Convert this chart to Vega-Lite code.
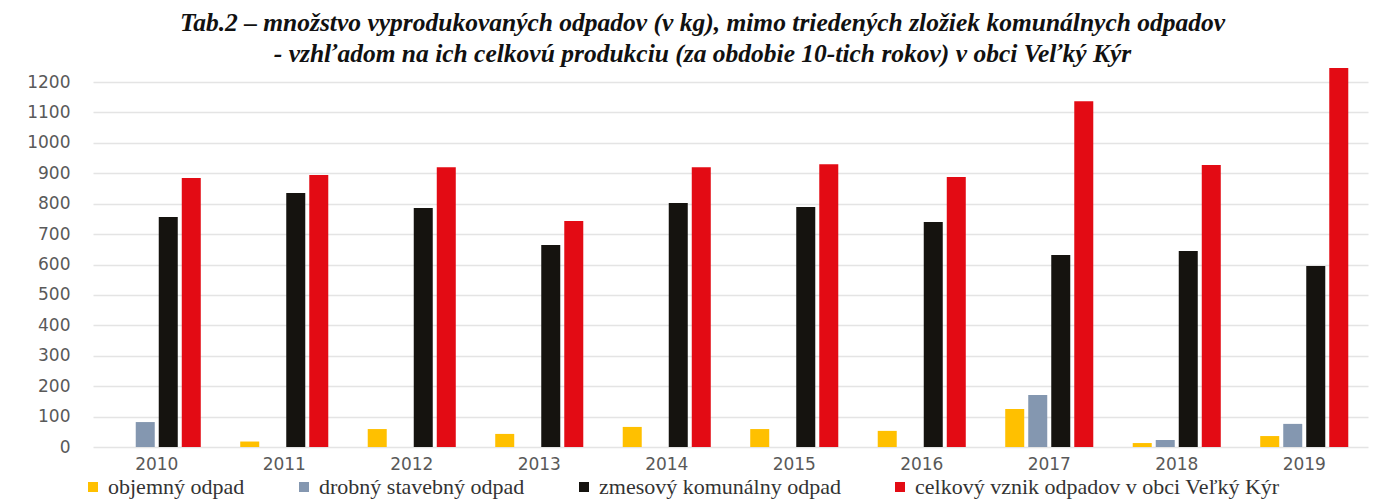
{
  "$schema": "https://vega.github.io/schema/vega-lite/v6.json",
  "width": 1275,
  "height": 365,
  "autosize": {"type": "none"},
  "padding": {"left": 93, "top": 82, "right": 26, "bottom": 56},
  "background": "white",
  "title": {
    "text": ["Tab.2 – množstvo vyprodukovaných odpadov (v kg), mimo triedených zložiek komunálnych odpadov", "- vzhľadom na ich celkovú produkciu (za obdobie 10-tich rokov) v obci Veľký Kýr"],
    "font": "Liberation Serif",
    "fontStyle": "italic",
    "fontWeight": "bold",
    "fontSize": 25.5,
    "lineHeight": 31,
    "color": "#111111",
    "anchor": "middle",
    "dx": -28,
    "offset": 1
  },
  "data": {
    "values": [
      {"year": "2010", "series": "objemný odpad", "value": 0},
      {"year": "2010", "series": "drobný stavebný odpad", "value": 82},
      {"year": "2010", "series": "zmesový komunálny odpad", "value": 756},
      {"year": "2010", "series": "celkový vznik odpadov v obci Veľký Kýr", "value": 884},
      {"year": "2011", "series": "objemný odpad", "value": 18},
      {"year": "2011", "series": "drobný stavebný odpad", "value": 0},
      {"year": "2011", "series": "zmesový komunálny odpad", "value": 835},
      {"year": "2011", "series": "celkový vznik odpadov v obci Veľký Kýr", "value": 894},
      {"year": "2012", "series": "objemný odpad", "value": 59},
      {"year": "2012", "series": "drobný stavebný odpad", "value": 0},
      {"year": "2012", "series": "zmesový komunálny odpad", "value": 786},
      {"year": "2012", "series": "celkový vznik odpadov v obci Veľký Kýr", "value": 920},
      {"year": "2013", "series": "objemný odpad", "value": 43},
      {"year": "2013", "series": "drobný stavebný odpad", "value": 0},
      {"year": "2013", "series": "zmesový komunálny odpad", "value": 664},
      {"year": "2013", "series": "celkový vznik odpadov v obci Veľký Kýr", "value": 743},
      {"year": "2014", "series": "objemný odpad", "value": 66},
      {"year": "2014", "series": "drobný stavebný odpad", "value": 0},
      {"year": "2014", "series": "zmesový komunálny odpad", "value": 802},
      {"year": "2014", "series": "celkový vznik odpadov v obci Veľký Kýr", "value": 920},
      {"year": "2015", "series": "objemný odpad", "value": 59},
      {"year": "2015", "series": "drobný stavebný odpad", "value": 0},
      {"year": "2015", "series": "zmesový komunálny odpad", "value": 789},
      {"year": "2015", "series": "celkový vznik odpadov v obci Veľký Kýr", "value": 930},
      {"year": "2016", "series": "objemný odpad", "value": 53},
      {"year": "2016", "series": "drobný stavebný odpad", "value": 0},
      {"year": "2016", "series": "zmesový komunálny odpad", "value": 740},
      {"year": "2016", "series": "celkový vznik odpadov v obci Veľký Kýr", "value": 888},
      {"year": "2017", "series": "objemný odpad", "value": 125},
      {"year": "2017", "series": "drobný stavebný odpad", "value": 171},
      {"year": "2017", "series": "zmesový komunálny odpad", "value": 631},
      {"year": "2017", "series": "celkový vznik odpadov v obci Veľký Kýr", "value": 1137},
      {"year": "2018", "series": "objemný odpad", "value": 13},
      {"year": "2018", "series": "drobný stavebný odpad", "value": 23},
      {"year": "2018", "series": "zmesový komunálny odpad", "value": 644},
      {"year": "2018", "series": "celkový vznik odpadov v obci Veľký Kýr", "value": 927},
      {"year": "2019", "series": "objemný odpad", "value": 36},
      {"year": "2019", "series": "drobný stavebný odpad", "value": 76},
      {"year": "2019", "series": "zmesový komunálny odpad", "value": 595},
      {"year": "2019", "series": "celkový vznik odpadov v obci Veľký Kýr", "value": 1246}
    ]
  },
  "mark": {"type": "bar"},
  "encoding": {
    "x": {
      "field": "year",
      "type": "nominal",
      "scale": {"paddingInner": 0.278, "paddingOuter": 0.139},
      "axis": {
        "title": null,
        "labelAngle": 0,
        "domain": false,
        "ticks": false,
        "labelPadding": 9,
        "labelFont": "DejaVu Sans",
        "labelFontSize": 17,
        "labelColor": "#595959"
      }
    },
    "xOffset": {
      "field": "series",
      "type": "nominal",
      "scale": {
        "domain": ["objemný odpad", "drobný stavebný odpad", "zmesový komunálny odpad", "celkový vznik odpadov v obci Veľký Kýr"],
        "paddingInner": 0.174,
        "paddingOuter": 0.087
      }
    },
    "y": {
      "field": "value",
      "type": "quantitative",
      "scale": {"domain": [0, 1200], "nice": false},
      "axis": {
        "title": null,
        "values": [0, 100, 200, 300, 400, 500, 600, 700, 800, 900, 1000, 1100, 1200],
        "format": "d",
        "domain": false,
        "ticks": false,
        "labelPadding": 23,
        "labelFont": "DejaVu Sans",
        "labelFontSize": 17,
        "labelColor": "#595959",
        "grid": true,
        "gridColor": "#E4E4E4",
        "gridWidth": 1.5
      }
    },
    "color": {
      "field": "series",
      "type": "nominal",
      "scale": {
        "domain": ["objemný odpad", "drobný stavebný odpad", "zmesový komunálny odpad", "celkový vznik odpadov v obci Veľký Kýr"],
        "range": ["#FFC000", "#8497B0", "#15130F", "#E30B14"]
      },
      "legend": {
        "title": null,
        "orient": "none",
        "direction": "horizontal",
        "legendX": -11,
        "legendY": 394,
        "symbolType": "square",
        "symbolSize": 100,
        "symbolStrokeWidth": 0,
        "labelFont": "Liberation Serif",
        "labelFontSize": 22,
        "labelColor": "#333333",
        "labelOffset": 4,
        "columnPadding": 48,
        "labelLimit": 600
      }
    }
  },
  "config": {
    "view": {"stroke": null},
    "legend": {"labelFont": "Liberation Serif"}
  }
}
